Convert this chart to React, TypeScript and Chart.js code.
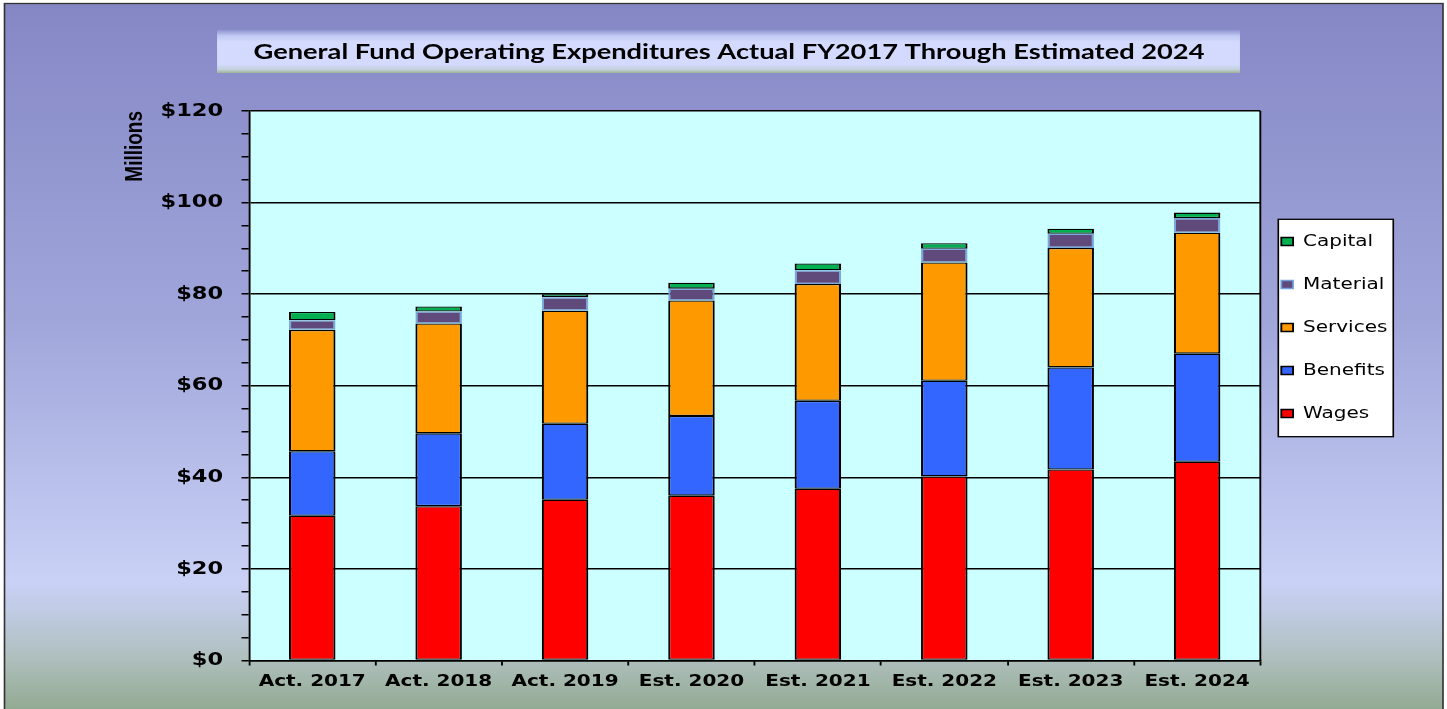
import { useEffect, useRef } from 'react';
import { Chart, registerables } from 'chart.js';

Chart.register(...registerables);

// ---- data ----
const categories = ['Act. 2017', 'Act. 2018', 'Act. 2019', 'Est. 2020', 'Est. 2021', 'Est. 2022', 'Est. 2023', 'Est. 2024'];
const wages = [31.6, 33.7, 35.1, 36.0, 37.5, 40.2, 41.7, 43.4];
const benefits = [14.1, 15.9, 16.6, 17.4, 19.2, 20.9, 22.3, 23.6];
const services = [26.5, 24.0, 24.7, 25.2, 25.5, 25.8, 26.1, 26.4];
const material = [2.1, 2.6, 2.9, 2.6, 3.0, 3.0, 3.1, 3.2];
const capital = [1.8, 1.1, 0.7, 1.3, 1.5, 1.2, 1.1, 1.2];
const yMin = 0;
const yMax = 120;
const yMajorStep = 20;
const yMinorStep = 5;
const titleText = 'General Fund Operating Expenditures Actual FY2017 Through Estimated 2024';
const yAxisTitle = 'Millions';

// ---- page geometry (layout units are horizontally stretched onto the page) ----
const PAGE_W = 1447;
const PAGE_H = 709;
const LAYOUT_W = 1158;
const SX = PAGE_W / LAYOUT_W;

const framePlugin = {
  id: 'framePlugin',
  afterLayout(chart: any) {
    const lg = chart.legend;
    if (lg) {
      lg.left = 998.4;
      lg.right = 1115;
      lg.top = 206.5;
      lg.bottom = 700;
    }
  },
  beforeDraw(chart: any) {
    const c = chart.canvas as HTMLCanvasElement;
    if (c.width !== PAGE_W) c.width = PAGE_W;
    const ctx = chart.ctx as CanvasRenderingContext2D;
    ctx.setTransform(SX, 0, 0, 1, 0, 0);
    ctx.save();
    // outer frame
    const fx0 = 3.6, fx1 = 1154.8, fy0 = 3.5, fy1 = PAGE_H + 3;
    const g = ctx.createLinearGradient(0, fy0, 0, PAGE_H);
    g.addColorStop(0, '#8587c5');
    g.addColorStop(0.45, '#a0a6da');
    g.addColorStop(0.82, '#c9d1f6');
    g.addColorStop(0.86, '#c0cbe4');
    g.addColorStop(0.93, '#aebfbc');
    g.addColorStop(1, '#93aa92');
    ctx.fillStyle = g;
    ctx.fillRect(fx0, fy0, fx1 - fx0, fy1 - fy0);
    ctx.strokeStyle = '#333333';
    ctx.lineWidth = 1.3;
    ctx.strokeRect(fx0, fy0, fx1 - fx0, fy1 - fy0);
    // title box
    const tx0 = 173.7, tx1 = 992.3, ty0 = 30, ty1 = 73;
    const tg = ctx.createLinearGradient(0, ty0, 0, ty1);
    tg.addColorStop(0, '#8e94d0');
    tg.addColorStop(0.14, '#c3caf4');
    tg.addColorStop(0.28, '#d3dafd');
    tg.addColorStop(0.8, '#d3dafd');
    tg.addColorStop(0.92, '#c4d0dc');
    tg.addColorStop(1, '#9db494');
    ctx.fillStyle = tg;
    ctx.fillRect(tx0, ty0, tx1 - tx0, ty1 - ty0);
    // legend box
    const lx0 = 1023, lx1 = 1115, ly0 = 219.3, ly1 = 436.7;
    ctx.fillStyle = '#ffffff';
    ctx.fillRect(lx0, ly0, lx1 - lx0, ly1 - ly0);
    ctx.strokeStyle = '#000000';
    ctx.lineWidth = 1.3;
    ctx.strokeRect(lx0, ly0, lx1 - lx0, ly1 - ly0);
    // plot background
    const a = chart.chartArea;
    ctx.fillStyle = '#ccffff';
    ctx.fillRect(a.left, a.top, a.right - a.left, a.bottom - a.top);
    ctx.restore();
  },
  beforeDatasetsDraw(chart: any) {
    const ctx = chart.ctx as CanvasRenderingContext2D;
    const a = chart.chartArea;
    ctx.save();
    ctx.strokeStyle = '#000000';
    ctx.lineWidth = 1.5;
    ctx.beginPath();
    ctx.moveTo(a.right, a.top);
    ctx.lineTo(a.right, a.bottom);
    ctx.stroke();
    ctx.restore();
  },
};

const segBorder = { left: 1.7, right: 1.7, top: 1.3, bottom: 1.3 };

export default function App() {
  const canvasRef = useRef<HTMLCanvasElement | null>(null);

  useEffect(() => {
    const canvas = canvasRef.current;
    if (!canvas) return;
    const chart = new Chart(canvas, {
      type: 'bar',
      data: {
        labels: categories,
        datasets: [
          { label: 'Wages', data: wages, backgroundColor: '#ff0000', borderColor: '#000000', borderWidth: segBorder, borderSkipped: false },
          { label: 'Benefits', data: benefits, backgroundColor: '#3366ff', borderColor: '#000000', borderWidth: segBorder, borderSkipped: false },
          { label: 'Services', data: services, backgroundColor: '#ff9900', borderColor: '#000000', borderWidth: segBorder, borderSkipped: false },
          { label: 'Material', data: material, backgroundColor: '#604a7b', borderColor: 'rgba(110,160,220,0.9)', borderWidth: segBorder, borderSkipped: false },
          { label: 'Capital', data: capital, backgroundColor: '#00b050', borderColor: '#000000', borderWidth: segBorder, borderSkipped: false },
        ] as any,
      },
      options: {
        responsive: false,
        maintainAspectRatio: false,
        animation: false,
        devicePixelRatio: 1,
        events: [],
        layout: { padding: { left: 90, right: 81.2, top: 10, bottom: 8.5 } },
        datasets: { bar: { categoryPercentage: 1, barPercentage: 0.368 } },
        scales: {
          x: {
            stacked: true,
            afterFit: (s: any) => { s.height = 40; },
            grid: { drawOnChartArea: false, drawTicks: true, tickLength: 5, tickColor: '#000000', lineWidth: 1.5, offset: true },
            border: { display: true, color: '#000000', width: 1.5 },
            ticks: {
              color: '#000000',
              font: { family: 'DejaVu Sans', weight: 'bold', size: 16 },
              padding: 7,
              autoSkip: false,
              maxRotation: 0,
            },
          },
          y: {
            stacked: true,
            min: yMin,
            max: yMax,
            afterFit: (s: any) => { s.width = 109.3; },
            grid: {
              color: (c: any) => (c.tick && c.tick.value % yMajorStep === 0 ? '#000000' : 'rgba(0,0,0,0)'),
              lineWidth: 1.5,
              drawTicks: true,
              tickLength: 6,
              tickColor: '#000000',
            },
            border: { display: true, color: '#000000', width: 1.5 },
            ticks: {
              stepSize: yMinorStep,
              autoSkip: false,
              color: '#000000',
              padding: 14.7,
              font: { family: 'DejaVu Sans', weight: 'bold', size: 18 },
              callback: (v: any) => (Number(v) % yMajorStep === 0 ? '$' + v : ''),
            },
            title: {
              display: true,
              text: yAxisTitle,
              align: 'end',
              color: '#000000',
              font: { family: 'Liberation Sans', weight: 'bold', size: 19 },
              padding: { top: 7, bottom: 0 },
            },
          },
        },
        plugins: {
          tooltip: { enabled: false },
          title: {
            display: true,
            text: titleText,
            color: '#000000',
            font: { family: 'Lato', weight: 'bold', size: 21.8 },
            padding: { top: 29, bottom: 45.8 },
          },
          legend: {
            display: true,
            position: 'right',
            align: 'start',
            reverse: true,
            fullSize: false,
            maxWidth: 68.2,
            labels: {
              color: '#000000',
              font: { family: 'DejaVu Sans', size: 16 },
              boxWidth: 9.4,
              boxHeight: 8,
              padding: 27,
            },
          },
        },
      } as any,
      plugins: [framePlugin],
    });
    return () => chart.destroy();
  }, []);

  return (
    <div style={{ position: 'absolute', left: 0, top: 0, width: PAGE_W, height: PAGE_H, overflow: 'hidden', background: '#ffffff' }}>
      <canvas
        ref={canvasRef}
        width={LAYOUT_W}
        height={PAGE_H}
        style={{ width: PAGE_W + 'px', height: PAGE_H + 'px', display: 'block' }}
      />
    </div>
  );
}
